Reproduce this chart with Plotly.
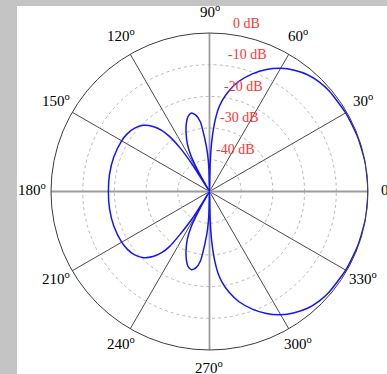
import math
import plotly.graph_objects as go

# Radiation pattern, angle in degrees and gain in dB (floor at -50 dB)
theta_deg = [
    0, 10, 20, 30, 40, 45, 50, 55, 60, 65, 70, 75, 79, 82, 84, 86, 87.5, 88.7, 90,
    91.5, 93, 95, 97.5, 100, 103, 106, 109, 112, 115, 117.5, 119.5, 121,
    122.5, 124, 126, 128, 131, 135, 140, 145, 150, 160, 170, 180,
    190, 200, 210, 215, 220, 225, 229, 232, 234, 235.5, 237.5,
    239, 240.5, 242.5, 245, 248, 251, 254, 257, 260, 262.5, 265, 267, 268.5,
    270, 271.3, 272.5, 274, 276, 278, 281, 285, 290, 295, 300, 305, 310, 315,
    320, 330, 340, 350, 360,
]
gain_db = [
    0.0, -0.05, -0.2, -0.4, -0.7, -1.1, -1.9, -3.3, -5.1, -7.5, -10.5, -14.0, -17.6, -21.0, -24.0, -29.0, -34.5, -42.0, -50.0,
    -43.0, -38.0, -33.5, -27.8, -25.6, -24.6, -25.4, -27.5, -30.3, -33.5, -37.5, -44.0, -50.0,
    -40.0, -33.5, -28.5, -25.5, -22.8, -20.5, -19.0, -18.3, -18.0, -17.9, -18.0, -18.1,
    -18.0, -17.9, -18.0, -18.3, -19.0, -20.5, -22.8, -25.5, -28.5, -33.5, -40.0,
    -50.0, -44.0, -37.5, -33.5, -30.3, -27.5, -25.4, -24.7, -25.6, -27.8, -33.5, -38.0, -43.0,
    -50.0, -42.0, -34.5, -29.0, -24.0, -21.0, -17.6, -14.0, -10.5, -7.5, -5.1, -3.3, -1.9, -1.1,
    -0.7, -0.4, -0.2, -0.05, 0.0,
]

# Polar grid settings
angle_ticks = list(range(0, 360, 30))
angle_labels = [f"{a}<sup>o</sup>" for a in angle_ticks]
db_rings = [-40, -30, -20, -10]
db_labels = [0, -10, -20, -30, -40]
db_min, db_max = -50, 0

W, H = 387, 374
ML, MR, MT, MB = 51, 19, 33, 24
PW, PH = W - ML - MR, H - MT - MB


def px_to_paper(px, py):
    return (px - ML) / PW, (H - MB - py) / PH


def polar_to_paper(frac, deg):
    """Position at a fraction of the outer radius and an angle, in paper units."""
    a = math.radians(deg)
    return 0.5 + 0.5 * frac * math.cos(a), 0.5 + 0.5 * frac * math.sin(a)


fig = go.Figure()

# Main axes through the origin
for a in (0, 90):
    fig.add_trace(go.Scatterpolar(
        theta=[a, a + 180], r=[db_max, db_max], mode="lines",
        line=dict(color="#9c9c9c", width=1.8), hoverinfo="skip",
    ))

fig.add_trace(go.Scatterpolar(
    theta=theta_deg, r=gain_db, mode="lines",
    line=dict(color="#1414ff", width=1.5, shape="spline", smoothing=0.6),
))

# Gray frame bands around the white page
lx0, ly0 = px_to_paper(0, H)
lx1, ly1 = px_to_paper(17, 0)
tx0, ty0 = px_to_paper(0, 6)
tx1, ty1 = px_to_paper(W, 0)
shapes = [
    dict(type="rect", xref="paper", yref="paper", x0=lx0, x1=lx1, y0=ly0, y1=ly1,
         fillcolor="#c4c4c4", line=dict(width=0), layer="below"),
    dict(type="rect", xref="paper", yref="paper", x0=tx0, x1=tx1, y0=ty0, y1=ty1,
         fillcolor="#c4c4c4", line=dict(width=0), layer="below"),
]

annotations = []
# Angle labels around the outer circle
for a, lab in zip(angle_ticks, angle_labels):
    x, y = polar_to_paper(1.12, a)
    annotations.append(dict(
        x=x, y=y, xref="paper", yref="paper", xanchor="center", yanchor="middle",
        yshift=2.5, text=lab, showarrow=False, borderpad=0,
        font=dict(family="Liberation Serif", size=15, color="black"),
    ))

# dB ring labels, placed just outside each ring along an 82.5 degree ray
for d in db_labels:
    x, y = polar_to_paper((d - db_min + 3.5) / (db_max - db_min), 82.5)
    annotations.append(dict(
        x=x, y=y, xref="paper", yref="paper", xanchor="left", yanchor="middle",
        text=f"{d} dB", showarrow=False, borderpad=0,
        font=dict(family="Liberation Serif", size=14, color="#ff3535"),
    ))

fig.update_layout(
    width=W, height=H,
    margin=dict(l=ML, r=MR, t=MT, b=MB, pad=0),
    paper_bgcolor="white",
    showlegend=False,
    shapes=shapes,
    annotations=annotations,
    polar=dict(
        bgcolor="white",
        domain=dict(x=[0, 1], y=[0, 1]),
        angularaxis=dict(
            rotation=0, direction="counterclockwise",
            tickmode="array", tickvals=angle_ticks,
            showticklabels=False,
            ticks="", showline=True, linecolor="#3c3c3c", linewidth=1,
            showgrid=True, gridcolor="#4a4a4a", gridwidth=0.8,
        ),
        radialaxis=dict(
            range=[db_min, db_max], tickmode="array", tickvals=db_rings,
            showticklabels=False, ticks="", showline=False,
            showgrid=True, gridcolor="#b8b8b8", gridwidth=0.8, griddash="dot",
        ),
    ),
)

fig.write_html("out.html")
